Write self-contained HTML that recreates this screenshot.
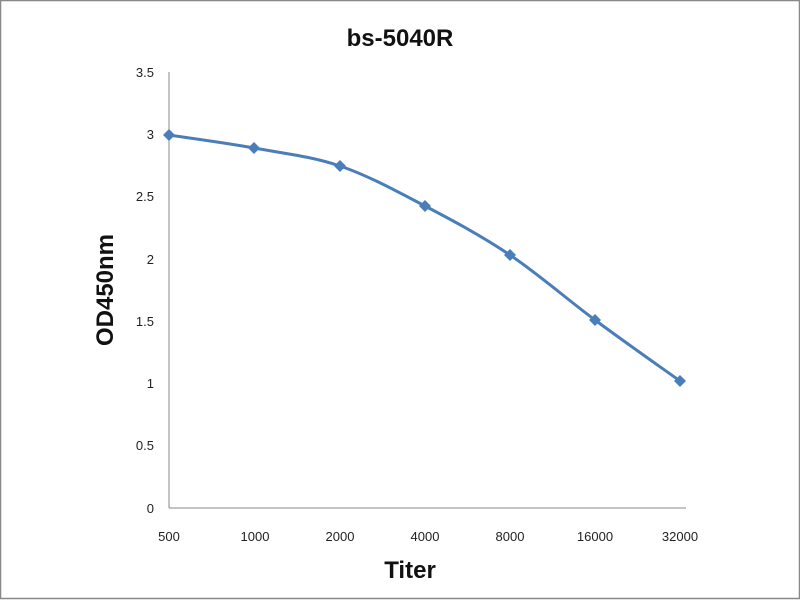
<!DOCTYPE html>
<html><head><style>body{margin:0;background:#fff}svg{display:block}</style></head><body>
<svg width="800" height="600" xmlns="http://www.w3.org/2000/svg" font-family="Liberation Sans, sans-serif">
<rect x="0.5" y="0.5" width="799" height="598" fill="#fff" stroke="#888" stroke-width="1.5"/>
<text x="400" y="46" font-size="24" font-weight="bold" text-anchor="middle" fill="#111">bs-5040R</text>
<line x1="169" y1="72" x2="169" y2="508" stroke="#888" stroke-width="1"/>
<line x1="169" y1="508" x2="686" y2="508" stroke="#888" stroke-width="1"/>
<g font-size="13" fill="#222" text-anchor="end">
<text x="154" y="77">3.5</text><text x="154" y="139">3</text><text x="154" y="201">2.5</text>
<text x="154" y="264">2</text><text x="154" y="326">1.5</text><text x="154" y="388">1</text>
<text x="154" y="450">0.5</text><text x="154" y="513">0</text>
</g>
<g font-size="13" fill="#222" text-anchor="middle">
<text x="169" y="541">500</text><text x="255" y="541">1000</text><text x="340" y="541">2000</text>
<text x="425" y="541">4000</text><text x="510" y="541">8000</text><text x="595" y="541">16000</text><text x="680" y="541">32000</text>
</g>
<text x="410" y="578" font-size="24" font-weight="bold" text-anchor="middle" fill="#111">Titer</text>
<text transform="translate(113,290) rotate(-90)" font-size="24" font-weight="bold" text-anchor="middle" fill="#111">OD450nm</text>
<path d="M169,135 C183,137.2 225.5,142.8 254,148 C282.5,153.2 311.5,156.3 340,166 C368.5,175.7 396.7,191.2 425,206 C453.3,220.8 481.7,236 510,255 C538.3,274 566.7,299 595,320 C623.3,341 665.8,370.8 680,381" fill="none" stroke="#4a7ebb" stroke-width="3"/>
<g fill="#4a7ebb">
<path d="M169,129 l6,6 -6,6 -6,-6z"/><path d="M254,142 l6,6 -6,6 -6,-6z"/><path d="M340,160 l6,6 -6,6 -6,-6z"/>
<path d="M425,200 l6,6 -6,6 -6,-6z"/><path d="M510,249 l6,6 -6,6 -6,-6z"/><path d="M595,314 l6,6 -6,6 -6,-6z"/>
<path d="M680,375 l6,6 -6,6 -6,-6z"/>
</g>
</svg>
</body></html>
